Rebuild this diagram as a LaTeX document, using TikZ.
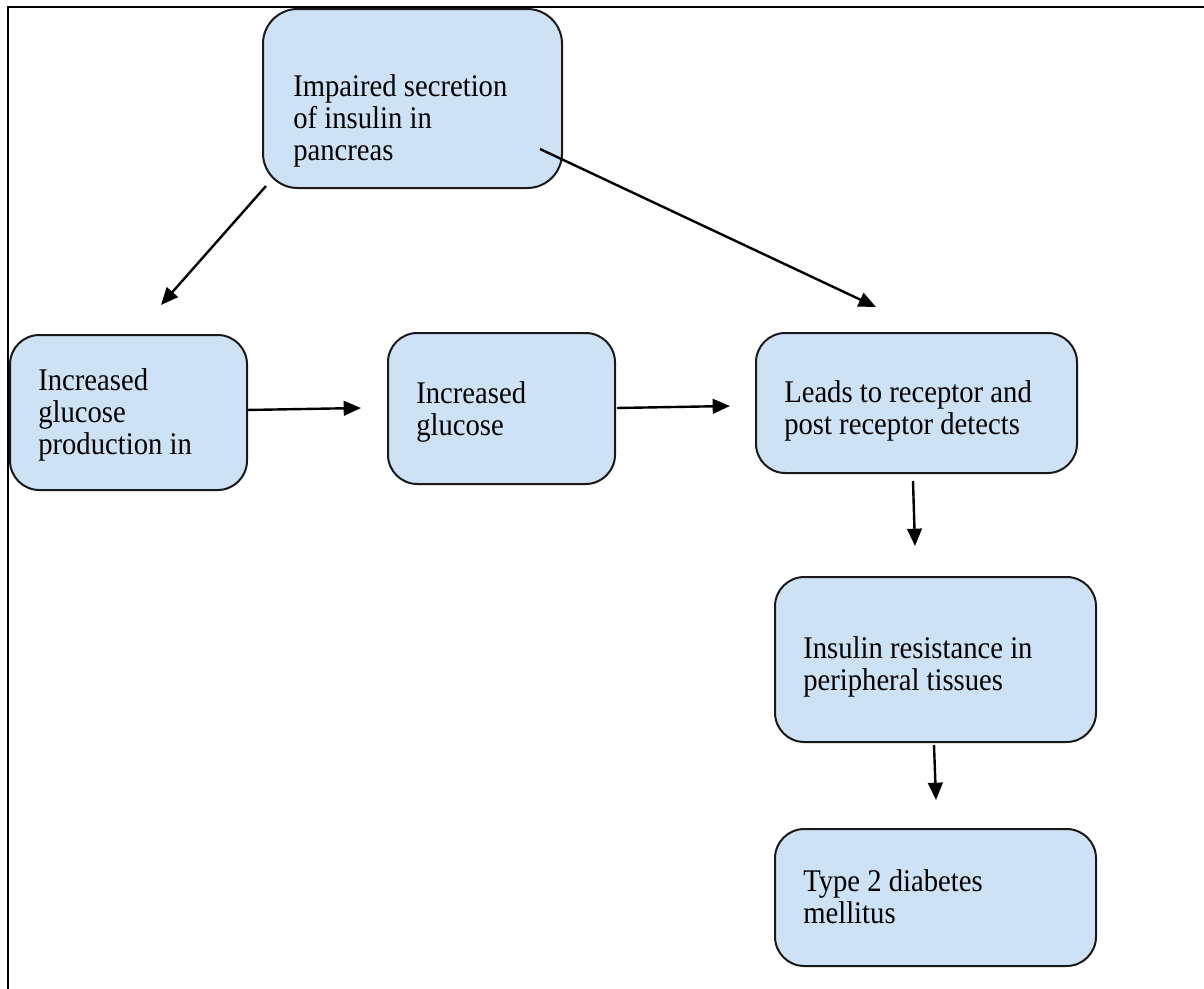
\documentclass[tikz,border=0pt]{standalone}
\usepackage{fontspec}
\setmainfont{Liberation Serif}
\usetikzlibrary{fit,calc,arrows.meta}
\definecolor{boxfill}{RGB}{206,226,245}
\definecolor{boxline}{RGB}{25,25,25}
\tikzset{
  box/.style={draw=boxline, fill=boxfill, line width=1.5pt, rounded corners=22pt, inner sep=0pt},
  txt/.style={anchor=base west, inner sep=0pt, align=left, yscale=1.1, font=\fontsize{21.5pt}{21.7pt}\selectfont},
  arr/.style={line width=1.8pt, -{Triangle[length=13pt,width=11pt]}},
  frame/.style={line width=1.5pt, draw=black}
}
\begin{document}
\begin{tikzpicture}[x=0.75pt,y=-0.75pt]
\useasboundingbox (0,0) rectangle (1204,989);
% frame
\coordinate (fA) at (1204,7);
\coordinate (fB) at (8,7);
\coordinate (fC) at (8,989);
\draw[frame] (fA) -- (fB) -- (fC);
% boxes
\node[box, rounded corners=26pt, fit={(263,9) (562,188)}] (top) {};
\node[box, fit={(10,335) (247,490)}] (left) {};
\node[box, fit={(388,333) (615,484)}] (mid) {};
\node[box, fit={(756,333) (1077,473)}] (right) {};
\node[box, fit={(775,577) (1096,742)}] (res) {};
\node[box, fit={(775,829) (1096,966)}] (dm) {};
% texts (anchored at the baseline of the last line)
\node[txt] (ttop) at (293,160) {Impaired secretion\\of insulin in\\pancreas};
\node[txt] (tleft) at (38,454) {Increased\\glucose\\production in};
\node[txt] (tmid) at (416,435) {Increased\\glucose};
\node[txt] (tright) at (784,434) {Leads to receptor and\\post receptor detects};
\node[txt] (tres) at (803,690) {Insulin resistance in\\peripheral tissues};
\node[txt] (tdm) at (803,923) {Type 2 diabetes\\mellitus};
% connector end points
\coordinate (a1s) at ($(top.south west)+(3pt,2.25pt)$);
\coordinate (a1e) at (161,305);
\coordinate (a2s) at (540,149);
\coordinate (a2e) at (876,307);
\coordinate (a3s) at ($(left.east)+(0,1.9pt)$);
\coordinate (a3e) at (361,408);
\coordinate (a4s) at (617,408);
\coordinate (a4e) at (730,406);
\coordinate (a5s) at (913,481);
\coordinate (a5e) at (915,546);
\coordinate (a6s) at (934,745);
\coordinate (a6e) at (936,800);
\draw[arr] (a1s) -- (a1e);
\draw[arr] (a2s) -- (a2e);
\draw[arr] (a3s) -- (a3e);
\draw[arr] (a4s) -- (a4e);
\draw[arr] (a5s) -- (a5e);
\draw[arr] (a6s) -- (a6e);
\end{tikzpicture}
\end{document}
